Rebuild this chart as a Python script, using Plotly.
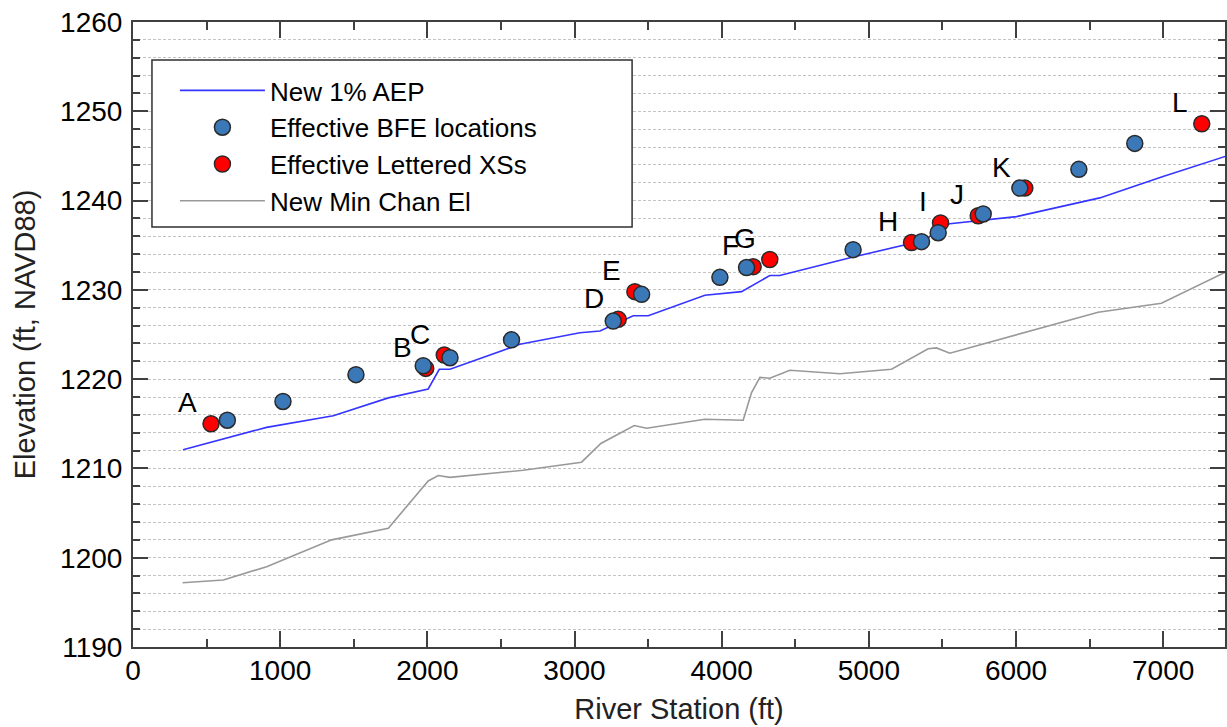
import plotly.graph_objects as go

# ---- data ----
aep_station = [340, 908, 1361, 1735, 2006, 2081, 2154, 2629, 3037, 3173, 3399, 3501,
               3886, 4135, 4327, 4395, 4900, 5279, 5392, 5471, 5550, 6003, 6569, 6999, 7450]
aep_elev = [1212.1, 1214.6, 1215.9, 1217.9, 1218.9, 1221.1, 1221.1, 1223.9, 1225.2, 1225.4,
            1227.1, 1227.1, 1229.4, 1229.8, 1231.6, 1231.6, 1233.7, 1235.1, 1235.6, 1237.0,
            1237.4, 1238.2, 1240.3, 1242.7, 1245.1]

chan_station = [337, 614, 908, 1350, 1735, 2006, 2074, 2154, 2652, 3048, 3179, 3406, 3490,
                3886, 4146, 4203, 4260, 4327, 4463, 4803, 5154, 5403, 5460, 5550, 6558, 6988, 7450]
chan_elev = [1197.2, 1197.5, 1199.0, 1202.0, 1203.3, 1208.6, 1209.2, 1209.0, 1209.8, 1210.7,
             1212.8, 1214.8, 1214.5, 1215.5, 1215.4, 1218.5, 1220.2, 1220.1, 1221.0, 1220.6,
             1221.1, 1223.4, 1223.5, 1222.9, 1227.5, 1228.5, 1232.2]

bfe_station = [641, 1019, 1515, 1972, 2154, 2572, 3263, 3456, 3988, 4169, 4893, 5358, 5471,
               5777, 6026, 6427, 6807]
bfe_elev = [1215.4, 1217.5, 1220.5, 1221.5, 1222.4, 1224.4, 1226.5, 1229.5, 1231.4, 1232.5,
            1234.5, 1235.4, 1236.4, 1238.5, 1241.4, 1243.5, 1246.4]

xs_letters = ["A", "B", "C", "D", "E", "F", "G", "H", "I", "J", "K", "L"]
xs_station = [530, 1989, 2115, 3297, 3410, 4214, 4327, 5290, 5487, 5743, 6060, 7262]
xs_elev = [1215.0, 1221.2, 1222.7, 1226.7, 1229.8, 1232.6, 1233.4, 1235.3, 1237.5, 1238.3,
           1241.4, 1248.6]

x_range = [0, 7420]
y_range = [1190, 1260]

FONT = "Liberation Sans, Arial, sans-serif"
AXIS_COLOR = "#404040"
GRID_COLOR = "#c4c4c4"

fig = go.Figure()

fig.add_trace(go.Scatter(x=chan_station, y=chan_elev, mode="lines", name="New Min Chan El",
                         line=dict(color="#999999", width=1.6), legendrank=4))
fig.add_trace(go.Scatter(x=aep_station, y=aep_elev, mode="lines", name="New 1% AEP",
                         line=dict(color="#3535ff", width=1.6), legendrank=1))
fig.add_trace(go.Scatter(x=xs_station, y=xs_elev, mode="markers", name="Effective Lettered XSs",
                         marker=dict(color="#ff0000", size=16, line=dict(color="#2a2a2a", width=1.5)),
                         legendrank=3))
fig.add_trace(go.Scatter(x=bfe_station, y=bfe_elev, mode="markers", name="Effective BFE locations",
                         marker=dict(color="#3a78b8", size=16, line=dict(color="#2a2a2a", width=1.5)),
                         legendrank=2))

for lab, xv, yv in zip(xs_letters, xs_station, xs_elev):
    fig.add_annotation(x=xv, y=yv, text=lab, showarrow=False, xanchor="right", yanchor="middle",
                       xshift=-13, yshift=21, borderpad=0,
                       font=dict(family=FONT, size=28, color="black"))

# legend frame (white box over gridlines)
fig.add_shape(type="rect", xref="paper", yref="paper",
              x0=(152 - 133) / 1094, x1=(633 - 133) / 1094,
              y0=(647 - 227) / 625, y1=(647 - 60) / 625,
              line=dict(color="#303030", width=1.5), fillcolor="white", layer="above")

fig.update_layout(
    width=1227, height=727,
    margin=dict(l=133, r=0, t=22, b=80),
    paper_bgcolor="white", plot_bgcolor="white",
    font=dict(family=FONT, size=28, color="black"),
    showlegend=True,
    legend=dict(x=(175 - 133) / 1094, y=(647 - 67) / 625, xanchor="left", yanchor="top",
                bgcolor="rgba(0,0,0,0)", borderwidth=0, itemwidth=85,
                font=dict(family=FONT, size=26, color="black"), traceorder="normal"),
)

fig.update_xaxes(
    range=x_range, dtick=1000, tick0=0,
    showline=True, linecolor=AXIS_COLOR, linewidth=2, mirror="ticks",
    ticks="inside", ticklen=16, tickwidth=1.5, tickcolor=AXIS_COLOR,
    minor=dict(dtick=500, ticks="inside", ticklen=8, tickwidth=1.5, tickcolor=AXIS_COLOR, showgrid=False),
    showgrid=False, zeroline=False,
    ticklabelstandoff=-3,
    tickfont=dict(family=FONT, size=28, color="black"),
    title=dict(text="River Station (ft)", font=dict(family=FONT, size=29, color="#222"), standoff=14),
)
fig.update_yaxes(
    range=y_range, dtick=10, tick0=1190,
    showline=True, linecolor=AXIS_COLOR, linewidth=2, mirror="ticks",
    ticks="inside", ticklen=15, tickwidth=1.5, tickcolor=AXIS_COLOR,
    showgrid=True, gridcolor=GRID_COLOR, gridwidth=1, griddash="3px,2px",
    minor=dict(dtick=2, ticks="inside", ticklen=7, tickwidth=1.5, tickcolor=AXIS_COLOR,
               showgrid=True, gridcolor=GRID_COLOR, gridwidth=1, griddash="3px,2px"),
    zeroline=False,
    ticklabelstandoff=3,
    tickfont=dict(family=FONT, size=28, color="black"),
    title=dict(text="Elevation (ft, NAVD88)", font=dict(family=FONT, size=29, color="#222"), standoff=16),
)

fig.write_html("out.html")
